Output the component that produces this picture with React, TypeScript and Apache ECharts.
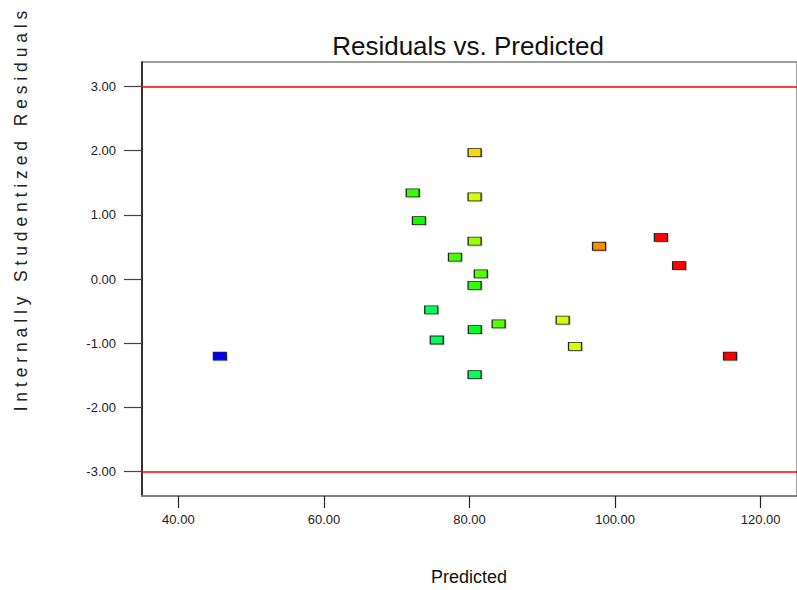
import React, { useEffect, useRef } from "react";
import * as echarts from "echarts";

const predicted = [80.7, 72.2, 80.7, 73.05, 80.7, 78.0, 81.55, 80.7, 97.8, 106.3, 108.8, 74.74, 80.73, 84.0, 92.8, 75.5, 94.5, 80.7, 45.7, 115.8];
const residuals = [1.97, 1.34, 1.28, 0.91, 0.59, 0.34, 0.08, -0.1, 0.51, 0.65, 0.21, -0.48, -0.79, -0.7, -0.64, -0.95, -1.05, -1.49, -1.2, -1.2];
const pointColors = ["#FFD700", "#33FF00", "#D8FF00", "#11FF00", "#99FF00", "#44FF00", "#55FF00", "#33FF00", "#FF8C00", "#FF0000", "#FF0000", "#00FF55", "#00FF22", "#55FF00", "#D4FF00", "#00FF55", "#D4FF00", "#00FF55", "#0000FF", "#FF0000"];
const xTicks = [40, 60, 80, 100, 120];
const yTicks = [-3, -2, -1, 0, 1, 2, 3];
const limitLines = [3, -3];

const titleText = "Residuals vs. Predicted";
const xTitle = "Predicted";
const yTitle = "I n t e r n a l l y   S t u d e n t i z e d   R e s i d u a l s";

export default function App() {
  const ref = useRef<HTMLDivElement>(null);
  useEffect(() => {
    const chart = echarts.init(ref.current!, null, { renderer: "svg" });
    const data = predicted.map((x, i) => ({
      value: [x, residuals[i]],
      itemStyle: { color: pointColors[i] },
    }));
    chart.setOption({
      animation: false,
      backgroundColor: "#ffffff",
      textStyle: { fontFamily: "Liberation Sans, Arial, sans-serif" },
      grid: {
        left: 142,
        top: 62,
        width: 657,
        height: 434,
        show: true,
        borderColor: "#808080",
        borderWidth: 1.5,
        backgroundColor: "transparent",
      },
      xAxis: {
        type: "value",
        min: 35,
        max: 125,
        splitLine: { show: false },
        axisLine: { show: true, onZero: false, lineStyle: { color: "#808080", width: 2 } },
        axisTick: { show: true, length: 12, customValues: xTicks, lineStyle: { color: "#222", width: 1.2 } },
        axisLabel: {
          customValues: xTicks,
          margin: 17,
          fontSize: 13,
          color: "#222",
          fontFamily: "Liberation Sans, Arial, sans-serif",
          formatter: (v: number) => v.toFixed(2),
        },
      },
      yAxis: {
        type: "value",
        min: -3.38,
        max: 3.38,
        splitLine: { show: false },
        axisLine: { show: true, onZero: false, lineStyle: { color: "#111", width: 1.5 } },
        axisTick: { show: true, length: 18, customValues: yTicks, lineStyle: { color: "#444", width: 1.2 } },
        axisLabel: {
          customValues: yTicks,
          margin: 26,
          fontSize: 13,
          color: "#222",
          fontFamily: "Liberation Sans, Arial, sans-serif",
          formatter: (v: number) => v.toFixed(2),
        },
      },
      series: [
        {
          type: "scatter",
          symbol: "rect",
          symbolSize: [13, 8],
          data,
          itemStyle: {
            opacity: 1,
            borderColor: "#222",
            borderWidth: 1,
            shadowColor: "rgba(0,0,0,0.18)",
            shadowBlur: 1,
            shadowOffsetX: 1,
            shadowOffsetY: 1,
          },
          markLine: {
            silent: true,
            symbol: "none",
            label: { show: false },
            lineStyle: { color: "#FF0000", width: 1.6, type: "solid", opacity: 1 },
            data: limitLines.map((v) => ({ yAxis: v })),
          },
          z: 3,
        },
      ],
      graphic: [
        {
          type: "text",
          x: 468,
          y: 46,
          style: {
            text: titleText,
            fontSize: 26,
            fill: "#111",
            fontFamily: "Liberation Sans, Arial, sans-serif",
            align: "center",
            verticalAlign: "middle",
          },
        },
        {
          type: "text",
          x: 469,
          y: 577,
          style: {
            text: xTitle,
            fontSize: 18,
            fill: "#111",
            fontFamily: "Liberation Sans, Arial, sans-serif",
            align: "center",
            verticalAlign: "middle",
          },
        },
        {
          type: "text",
          x: 21,
          y: 211,
          rotation: Math.PI / 2,
          style: {
            text: yTitle,
            fontSize: 17.5,
            fill: "#222",
            fontFamily: "Liberation Sans, Arial, sans-serif",
            align: "center",
            verticalAlign: "middle",
          },
        },
      ],
    });
    return () => chart.dispose();
  }, []);
  return (
    <div
      ref={ref}
      style={{ position: "fixed", left: 0, top: 0, width: 797, height: 590, background: "#fff" }}
    />
  );
}
